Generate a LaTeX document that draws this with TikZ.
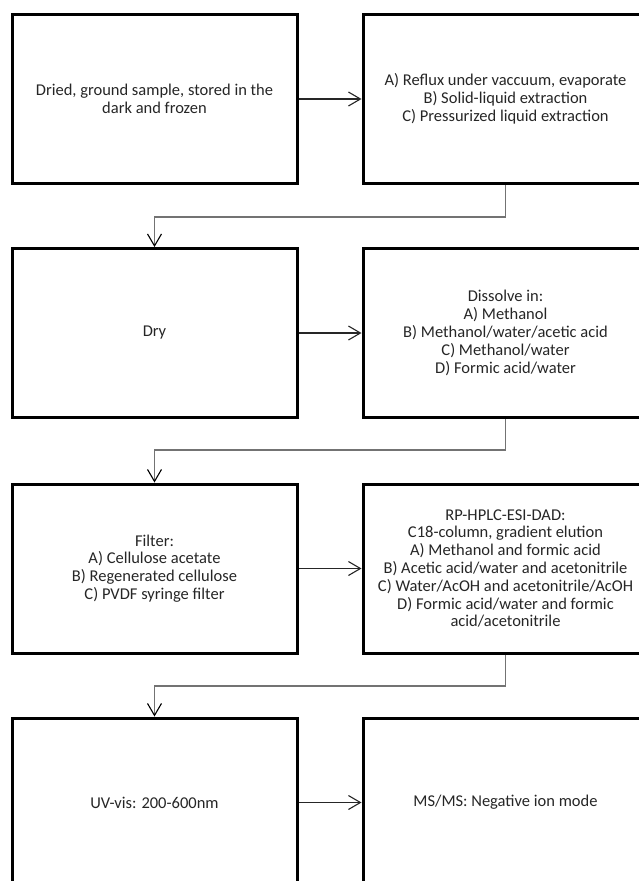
\documentclass[tikz,border=0pt]{standalone}
\usepackage{fontspec}
\setmainfont{Carlito}
\usetikzlibrary{arrows.meta}
\begin{document}
\begin{tikzpicture}[x=1pt,y=-1pt,
  stepbox/.style={draw=black, line width=3pt, rectangle, minimum width=285pt, minimum height=169pt,
    inner sep=0pt, align=center, text=black!85, font=\fontsize{16.5}{17.8}\selectfont},
  conn/.style={draw=black!55, line width=1.3pt, -{Straight Barb[length=12pt,width=14pt,line width=1.1pt,color=black]}},
  harrow/.style={draw=black!85, line width=1.1pt, -{Straight Barb[length=12pt,width=14pt,line width=1.1pt]}}
]
\clip (0,0) rectangle (639,881);
\fill[white] (0,0) rectangle (639,881);

\node[stepbox] (b1) at (154.5,99) {Dried, ground sample, stored in the\\dark and frozen};
\node[stepbox] (b2) at (505.5,99) {A) Reflux under vaccuum, evaporate\\B) Solid-liquid extraction\\C) Pressurized liquid extraction};
\node[stepbox] (b3) at (154.5,333) {Dry};
\node[stepbox] (b4) at (505.5,333) {Dissolve in:\\A) Methanol\\B) Methanol/water/acetic acid\\C) Methanol/water\\D) Formic acid/water};
\node[stepbox] (b5) at (154.5,568.5) {Filter:\\A) Cellulose acetate\\B) Regenerated cellulose\\C) PVDF syringe filter};
\node[stepbox] (b6) at (505.5,568.5) {RP-HPLC-ESI-DAD:\\C18-column, gradient elution\\A) Methanol and formic acid\\B) Acetic acid/water and acetonitrile\\C) Water/AcOH and acetonitrile/AcOH\\D) Formic acid/water and formic\\acid/acetonitrile};
\node[stepbox] (b7) at (154.5,802.5) {UV-vis: 200-600nm};
\node[stepbox] (b8) at (505.5,802.5) {MS/MS: Negative ion mode};

\coordinate (k1) at (505.5,217);
\coordinate (k2) at (505.5,450);
\coordinate (k3) at (505.5,686);

\draw[harrow] (b1) -- (b2);
\draw[harrow] (b3) -- (b4);
\draw[harrow] (b5) -- (b6);
\draw[harrow] (b7) -- (b8);

\draw[conn] (b2.south) -- (k1) -| (b3.north);
\draw[conn] (b4.south) -- (k2) -| (b5.north);
\draw[conn] (b6.south) -- (k3) -| (b7.north);
\end{tikzpicture}
\end{document}
